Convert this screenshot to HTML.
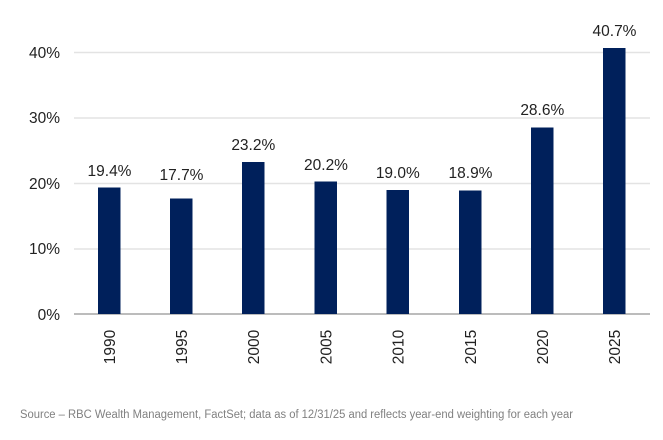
<!DOCTYPE html>
<html><head><style>
body{margin:0;background:#fff;}
</style></head><body>
<svg width="663" height="435" xmlns="http://www.w3.org/2000/svg" font-family="'Liberation Sans',sans-serif">
<g stroke="#e3e3e3" stroke-width="1.5">
<line x1="74" x2="650" y1="52.5" y2="52.5"/>
<line x1="74" x2="650" y1="118" y2="118"/>
<line x1="74" x2="650" y1="183.5" y2="183.5"/>
<line x1="74" x2="650" y1="249" y2="249"/>
</g>
<line x1="74" x2="650" y1="314" y2="314" stroke="#a6a6a6" stroke-width="1.5"/>
<g font-size="15.5" fill="#222" text-anchor="end">
<text x="60" y="58">40%</text>
<text x="60" y="123">30%</text>
<text x="60" y="189">20%</text>
<text x="60" y="254">10%</text>
<text x="60" y="320">0%</text>
</g>
<g fill="#00205b">
<rect x="98" y="187.5" width="22.5" height="126.5"/>
<rect x="170" y="198.5" width="22.5" height="115.5"/>
<rect x="242" y="162" width="22.5" height="152"/>
<rect x="314.5" y="181.5" width="22.5" height="132.5"/>
<rect x="386.5" y="190" width="22.5" height="124"/>
<rect x="459" y="190.5" width="22.5" height="123.5"/>
<rect x="531" y="127.5" width="22.5" height="186.5"/>
<rect x="603" y="48" width="22.5" height="266"/>
</g>
<g font-size="15.5" fill="#222" text-anchor="middle">
<text x="109.5" y="176">19.4%</text>
<text x="181.5" y="180">17.7%</text>
<text x="253.3" y="150">23.2%</text>
<text x="326" y="170">20.2%</text>
<text x="397.8" y="178">19.0%</text>
<text x="470.5" y="178">18.9%</text>
<text x="542.3" y="115">28.6%</text>
<text x="614.5" y="36">40.7%</text>
</g>
<g font-size="15.5" fill="#222" text-anchor="middle">
<text transform="translate(115,347) rotate(-90)">1990</text>
<text transform="translate(187,347) rotate(-90)">1995</text>
<text transform="translate(259,347) rotate(-90)">2000</text>
<text transform="translate(331.5,347) rotate(-90)">2005</text>
<text transform="translate(403.5,347) rotate(-90)">2010</text>
<text transform="translate(476,347) rotate(-90)">2015</text>
<text transform="translate(548,347) rotate(-90)">2020</text>
<text transform="translate(620,347) rotate(-90)">2025</text>
</g>
<text x="20" y="418" font-size="11.5" fill="#808080" textLength="553" lengthAdjust="spacingAndGlyphs">Source – RBC Wealth Management, FactSet; data as of 12/31/25 and reflects year-end weighting for each year</text>
</svg>
</body></html>
